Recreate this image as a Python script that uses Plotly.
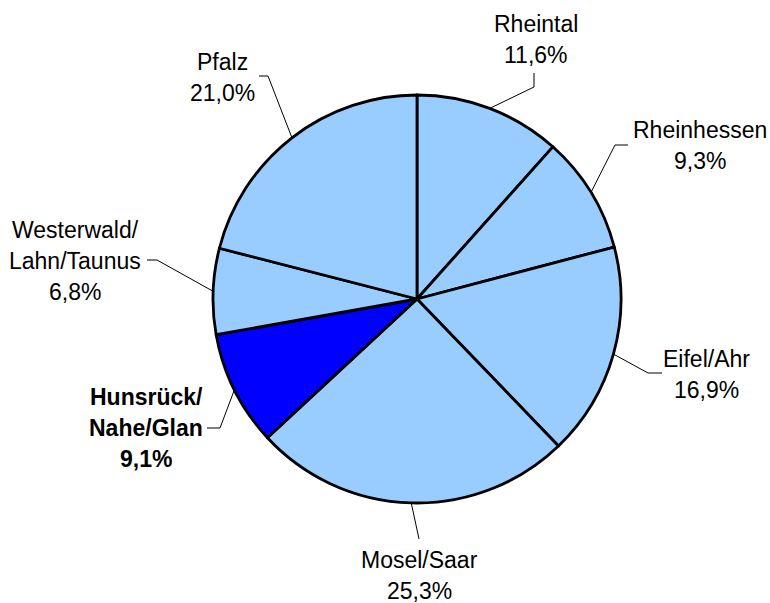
import math
import plotly.graph_objects as go

# ---- data ----
regions = ["Rheintal", "Rheinhessen", "Eifel/Ahr", "Mosel/Saar",
           "Hunsrück/|Nahe/Glan", "Westerwald/|Lahn/Taunus", "Pfalz"]
shares = [11.6, 9.3, 16.9, 25.3, 9.1, 6.8, 21.0]
highlight = [False, False, False, False, True, False, False]

# ---- style / layout ----
W, H = 770, 603
CX, CY, R = 417, 299, 204
LIGHT = "#99CCFF"
DARK = "#0000FF"
FONT = "Liberation Sans, Arial, sans-serif"
FS = 23
LINE_H = 31

# label text centre (px) and leader-line bend / end points (px)
label_pos = [(536, 40), (700, 146), (706, 374), (419, 575), (146, 428), (75, 261), (222, 77)]
leader = [
    [(534, 87), (534, 73)],
    [(615, 145), (628, 145)],
    [(648, 373), (662, 373)],
    [(419, 539)],
    [(220, 428), (207, 428)],
    [(157, 260), (147, 260)],
    [(268, 76), (259, 76)],
]

def px(x):
    return x / W

def py(y):
    return 1 - y / H

colors = [DARK if h else LIGHT for h in highlight]

fig = go.Figure(go.Pie(
    labels=[r.replace("|", " ") for r in regions],
    values=shares,
    sort=False,
    direction="clockwise",
    rotation=0,
    marker=dict(colors=colors, line=dict(color="black", width=2.8)),
    textinfo="none",
    hoverinfo="none",
    domain=dict(x=[px(CX - R), px(CX + R)], y=[py(CY + R), py(CY - R)]),
    showlegend=False,
))

shapes = []
annotations = []
total = sum(shares)
cum = 0.0
for i, (name, v) in enumerate(zip(regions, shares)):
    mid = (cum + v / 2) / total
    cum += v
    ang = 2 * math.pi * mid
    ex = CX + R * math.sin(ang)
    ey = CY - R * math.cos(ang)
    pts = [(ex, ey)] + leader[i]
    for (x0, y0), (x1, y1) in zip(pts[:-1], pts[1:]):
        shapes.append(dict(type="line", xref="paper", yref="paper",
                           x0=px(x0), y0=py(y0), x1=px(x1), y1=py(y1),
                           line=dict(color="black", width=1)))
    pct = f"{v:.1f}%".replace(".", ",")
    lines = name.split("|") + [pct]
    lx, ly = label_pos[i]
    n = len(lines)
    for k, t in enumerate(lines):
        yk = ly + (k - (n - 1) / 2) * LINE_H
        if highlight[i]:
            t = f"<b>{t}</b>"
        annotations.append(dict(x=px(lx), y=py(yk), xref="paper", yref="paper",
                                text=t, showarrow=False, xanchor="center",
                                yanchor="middle", align="center",
                                font=dict(family=FONT, size=FS, color="black")))

fig.update_layout(
    width=W, height=H,
    margin=dict(l=0, r=0, t=0, b=0),
    paper_bgcolor="white", plot_bgcolor="white",
    shapes=shapes, annotations=annotations,
)

fig.write_html("out.html", config={"displayModeBar": False},
               post_script="document.body.style.margin='0px';")
